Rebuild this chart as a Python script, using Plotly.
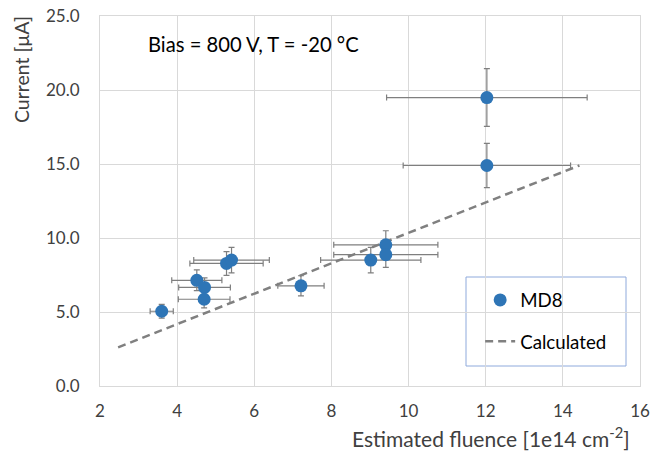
import plotly.graph_objects as go

# Measured data (MD8)
fluence = [3.6, 4.51, 4.71, 4.70, 5.28, 5.41, 7.21, 9.02, 9.41, 9.41, 12.03, 12.03]
current = [5.05, 7.14, 6.66, 5.86, 8.28, 8.51, 6.77, 8.51, 9.54, 8.87, 14.9, 19.49]
fluence_err = [0.30, 0.65, 0.67, 0.67, 0.95, 0.98, 0.60, 1.30, 1.35, 1.35, 2.17, 2.60]
current_err = [0.47, 0.70, 0.64, 0.58, 0.80, 0.86, 0.68, 0.86, 0.95, 0.85, 1.49, 1.95]

# Calculated line
calc_fluence = [2.47, 14.43]
calc_current = [2.61, 14.9]

x_ticks = [2, 4, 6, 8, 10, 12, 14, 16]
y_ticks = [0, 5, 10, 15, 20, 25]

FONT = "Lato"
GRID = "#d9d9d9"
ERR = "#7f7f7f"
TXT = "#404040"

fig = go.Figure()
fig.add_trace(go.Scatter(
    x=calc_fluence, y=calc_current, mode="lines", name="Calculated",
    line=dict(color="#808080", width=2.5, dash="8px,5px"),
    legendgroup="b", legendrank=2,
))
fig.add_trace(go.Scatter(
    x=fluence, y=current, mode="markers", name="MD8",
    marker=dict(color="#2e75b6", size=13),
    error_x=dict(type="data", array=fluence_err, color=ERR, thickness=1.2, width=3),
    error_y=dict(type="data", array=current_err, color=ERR, thickness=1.2, width=3),
    legendgroup="a", legendrank=1,
))

fig.update_layout(
    width=653, height=451, autosize=False,
    margin=dict(l=100, r=13, t=16, b=65, autoexpand=False),
    paper_bgcolor="white", plot_bgcolor="white",
    font=dict(family=FONT, size=16, color=TXT),
    showlegend=True,
    legend=dict(
        x=0.704, y=0.283, xanchor="left", yanchor="top",
        bgcolor="rgba(0,0,0,0)", borderwidth=0,
        font=dict(family=FONT, size=18.7, color="#000000"),
        tracegroupgap=14, traceorder="grouped",
    ),
    xaxis=dict(
        range=[2, 16], tickvals=x_ticks, ticktext=[str(v) for v in x_ticks],
        showgrid=True, gridcolor=GRID, gridwidth=1, automargin=False,
        showline=True, linecolor=GRID, mirror=True, zeroline=False,
        ticks="", ticklabelstandoff=10, ticklabeloverflow="allow",
        tickfont=dict(family=FONT, size=17, color=TXT),
    ),
    yaxis=dict(
        range=[0, 25], tickvals=y_ticks, tickformat=".1f",
        showgrid=True, gridcolor=GRID, gridwidth=1, automargin=False,
        showline=True, linecolor=GRID, mirror=True, zeroline=False,
        ticks="", ticklabelstandoff=16, ticklabeloverflow="allow",
        tickfont=dict(family=FONT, size=17, color=TXT),
    ),
    shapes=[dict(
        type="rect", xref="paper", yref="paper",
        x0=(466 - 100) / 540, x1=(626 - 100) / 540,
        y0=(386 - 366) / 370, y1=(386 - 277) / 370,
        line=dict(color="#8faadc", width=1), fillcolor="white", layer="below",
    )],
    annotations=[
        dict(text="Bias = 800 V, T = -20 °C", xref="paper", yref="paper",
             x=(146 - 100) / 540, y=(386 - 44) / 370, xanchor="left", yanchor="middle",
             showarrow=False, font=dict(family=FONT, size=20.2, color="#000000")),
        dict(text="Current [μA]", xref="paper", yref="paper",
             x=(22 - 100) / 540, y=(386 - 70) / 370, xanchor="center", yanchor="middle",
             textangle=-90, showarrow=False,
             font=dict(family=FONT, size=19.5, color=TXT)),
        dict(text="Estimated fluence [1e14 cm<sup>-2</sup>]", xref="paper", yref="paper",
             x=(632 - 100) / 540, y=(386 - 437) / 370, xanchor="right", yanchor="middle",
             showarrow=False, font=dict(family=FONT, size=21, color=TXT)),
    ],
)

fig.write_html(
    "out.html",
    config={"displayModeBar": False},
    post_script="document.body.style.margin='0';document.body.style.overflow='hidden';",
)
